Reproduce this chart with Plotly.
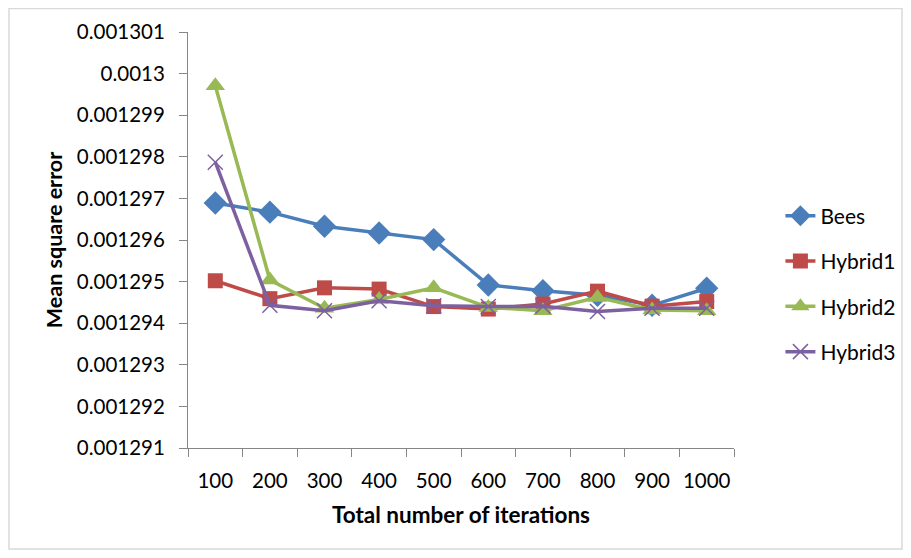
import plotly.graph_objects as go

ITERATIONS = ["100", "200", "300", "400", "500", "600", "700", "800", "900", "1000"]

BEES = [0.00129689, 0.00129667, 0.00129633, 0.00129617, 0.00129601,
        0.00129492, 0.00129478, 0.00129467, 0.00129443, 0.00129484]
HYBRID1 = [0.00129502, 0.00129459, 0.00129485, 0.00129482, 0.00129440,
           0.00129434, 0.00129446, 0.00129477, 0.00129441, 0.00129452]
HYBRID2 = [0.00129971, 0.00129504, 0.00129436, 0.00129457, 0.00129485,
           0.00129438, 0.00129430, 0.00129462, 0.00129432, 0.00129430]
HYBRID3 = [0.00129787, 0.00129443, 0.00129430, 0.00129454, 0.00129442,
           0.00129440, 0.00129441, 0.00129428, 0.00129436, 0.00129436]

Y_TICKS = [0.001291 + i * 0.000001 for i in range(11)]
Y_TICK_LABELS = ["0.001291", "0.001292", "0.001293", "0.001294", "0.001295",
                 "0.001296", "0.001297", "0.001298", "0.001299", "0.0013", "0.001301"]

# page body has an 8px margin, so the figure is 16px smaller than the window
W, H = 895, 542
L, R, T, B = 180, 169, 24, 102
FONT = "Lato, Open Sans, sans-serif"
AXIS_GREY = "#868686"

series = [
    ("Bees", BEES, "#4A7EBB", dict(symbol="diamond", size=18)),
    ("Hybrid1", HYBRID1, "#BE4B48", dict(symbol="square", size=15)),
    ("Hybrid2", HYBRID2, "#98B954", dict(symbol="triangle-up", size=17)),
    ("Hybrid3", HYBRID3, "#7D60A0", dict(symbol="x-thin", size=15,
                                         line=dict(width=1.5, color="#7D60A0"))),
]

fig = go.Figure()
for name, values, color, marker in series:
    fig.add_trace(go.Scatter(
        x=ITERATIONS,
        y=values,
        mode="lines+markers",
        name=name,
        legendgroup=name,
        line=dict(color=color, width=3.5),
        marker=dict(color=color, **marker),
    ))

# light grey frame round the whole chart, as in the spreadsheet export
pw = W - L - R
ph = H - T - B
fig.add_shape(
    type="rect", xref="paper", yref="paper",
    x0=(1 - L) / pw, x1=(W - 1 - L) / pw,
    y0=(H - B - (H - 1)) / ph, y1=(H - B - 0.5) / ph,
    line=dict(color="#D9D9D9", width=1.5), layer="below",
)

fig.update_layout(
    width=W, height=H,
    margin=dict(l=L, r=R, t=T, b=B, autoexpand=False),
    paper_bgcolor="white", plot_bgcolor="white",
    font=dict(family=FONT, size=20, color="#000000"),
    showlegend=True,
    legend=dict(
        x=1.085, y=0.394, xanchor="left", yanchor="middle",
        font=dict(family=FONT, size=21),
        tracegroupgap=15,
        bgcolor="rgba(0,0,0,0)",
    ),
    xaxis=dict(
        type="category",
        range=[-0.5, 9.5],
        automargin=False,
        showline=True, linecolor=AXIS_GREY, linewidth=1,
        ticks="outside", tickson="boundaries", ticklen=8, tickcolor=AXIS_GREY,
        ticklabelstandoff=14, tickangle=0,
        showgrid=False, zeroline=False,
        tickfont=dict(family=FONT, size=20.5),
        title=dict(text="<b>Total number of iterations</b>", standoff=16,
                   font=dict(family=FONT, size=22.5)),
    ),
    yaxis=dict(
        range=[0.001291, 0.001301],
        tickvals=Y_TICKS, ticktext=Y_TICK_LABELS,
        automargin=False,
        showline=True, linecolor=AXIS_GREY, linewidth=1,
        ticks="outside", ticklen=8, tickcolor=AXIS_GREY,
        ticklabelstandoff=10,
        showgrid=False, zeroline=False,
        tickfont=dict(family=FONT, size=20.5),
        title=dict(text="<b>Mean square error</b>", standoff=8,
                   font=dict(family=FONT, size=21.5)),
    ),
)

fig.write_html("out.html")
